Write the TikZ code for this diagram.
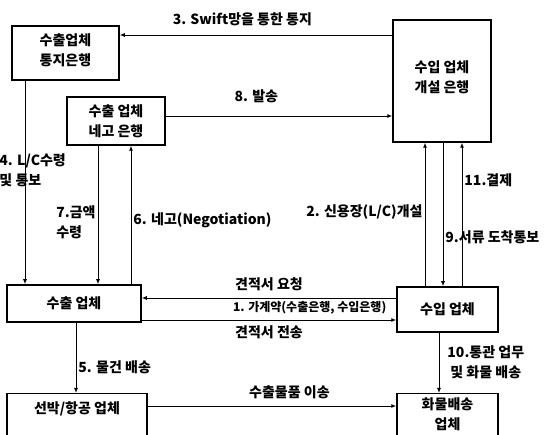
\documentclass[tikz,border=0pt]{standalone}
\usepackage{fontspec}
\setmainfont{Noto Sans CJK KR}
\usetikzlibrary{arrows.meta}

\begin{document}
\begin{tikzpicture}[x=1pt, y=-1pt, >={Latex[length=5pt, width=4pt]},
		font=\fontsize{14}{20}\selectfont\bfseries,
		box/.style={draw, line width=1.5pt, align=center, inner sep=2pt},
		flow/.style={->, line width=0.9pt},
		lbl/.style={inner sep=2pt, align=left}]
		\useasboundingbox (0,0) rectangle (558,435);

		% banks and firms
		\node[box, minimum width=107pt, minimum height=54pt, text height=26pt]  (notify)   at (65.5,53)  {수출업체\\통지은행};
		\node[box, minimum width=98pt, minimum height=48pt]        (nego)     at (116,121)  {수출 업체\\네고 은행};
		\node[box, minimum width=98pt, minimum height=122pt, text height=25pt]  (issue)    at (442,81)   {수입 업체\\개설 은행};
		\node[box, minimum width=134pt, minimum height=37pt]       (exporter) at (74,303.5) {수출 업체};
		\node[box, minimum width=101pt, minimum height=45pt]       (importer) at (447.5,309.5) {수입 업체};
		\node[box, minimum width=140pt, anchor=north, inner ysep=8pt, text depth=26pt]  (carrier)  at (77,393)  {선박/항공 업체};
		\node[box, minimum width=101pt, anchor=north, inner ysep=4pt, text depth=20pt]  (delivery) at (447.5,393) {화물배송\\업체};

		% rows and columns of the connectors
		\coordinate (r3)  at (0,35);
		\coordinate (r8)  at (0,116);
		\coordinate (r1a) at (0,298);
		\coordinate (r1b) at (0,320);
		\coordinate (rS)  at (0,406);
		\coordinate (c4)  at (25,0);
		\coordinate (c7)  at (98,0);
		\coordinate (c6)  at (131,0);
		\coordinate (c5)  at (76,0);
		\coordinate (c2)  at (425,0);
		\coordinate (c9)  at (443,0);
		\coordinate (c11) at (462,0);
		\coordinate (c10) at (439,0);

		\draw[flow] (issue.west |- r3) -- node[lbl, pos=.55, above=7pt] {3. Swift망을 통한 통지} (notify.east |- r3);
		\draw[flow] (nego.east |- r8) -- node[lbl, pos=.40, above=11pt] {8. 발송} (issue.west |- r8);
		\draw[flow] (notify.south -| c4) -- node[lbl, pos=.44, anchor=west, xshift=-28pt] {4. L/C수령\\및 통보} (exporter.north -| c4);
		\draw[flow] (nego.south -| c7) -- node[lbl, pos=.55, left] {7.금액\\수령} (exporter.north -| c7);
		\draw[flow] (exporter.north -| c6) -- node[lbl, pos=.46, right] {6. 네고(Negotiation)} (nego.south -| c6);
		\draw[flow] (importer.north -| c2) -- node[lbl, pos=.52, left] {2. 신용장(L/C)개설} (issue.south -| c2);
		\draw[flow] (issue.south -| c9) -- node[lbl, pos=.66, right] {9.서류 도착통보} (importer.north -| c9);
		\draw[flow] (importer.north -| c11) -- node[lbl, pos=.74, right] {11.결제} (issue.south -| c11);
		\draw[flow] (importer.west |- r1a) -- node[lbl, pos=.5, above=5pt] {견적서 요청} (exporter.east |- r1a);
		\draw[flow] (exporter.east |- r1b)
			-- node[lbl, pos=.66, above=3pt, font=\fontsize{12}{14}\selectfont\bfseries] {1. 가계약(수출은행, 수입은행)}
			node[lbl, pos=.5, below=3pt] {견적서 전송} (importer.west |- r1b);
		\draw[flow] (exporter.south -| c5) -- node[lbl, pos=.64, right] {5. 물건 배송} (carrier.north -| c5);
		\draw[flow] (importer.south -| c10) -- node[lbl, pos=.49, right=6pt, align=center] {10.통관 업무\\및 화물 배송} (delivery.north -| c10);
		\draw[flow] (carrier.east |- rS) -- node[lbl, pos=.57, above=5pt] {수출물품 이송} (delivery.west |- rS);
	\end{tikzpicture}
\end{document}
